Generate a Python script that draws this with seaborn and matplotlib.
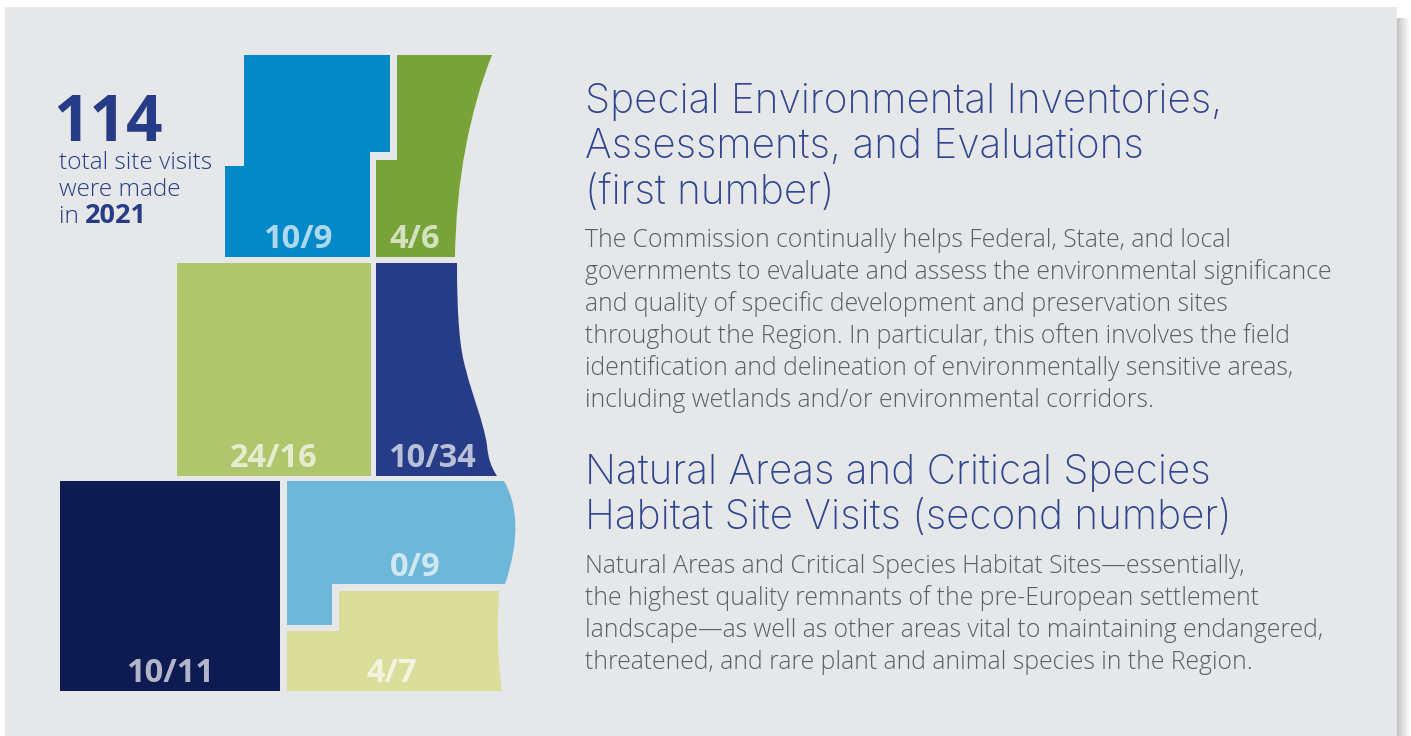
import numpy as np
import seaborn as sns
import matplotlib.pyplot as plt
from matplotlib.path import Path
from matplotlib.patches import PathPatch

# Данные
first_number = [10, 4, 24, 10, 10, 0, 4]
second_number = [9, 6, 16, 34, 11, 9, 7]
total_visits = '114'
year = '2021'
colors = ['#0388c8', '#78a339', '#afc66c', '#263c87', '#0e1b52', '#6db7d8', '#dbdd9b']

heading_1 = ['Special Environmental Inventories,', 'Assessments, and Evaluations', '(first number)']
body_1 = ['The Commission continually helps Federal, State, and local',
          'governments to evaluate and assess the environmental significance',
          'and quality of specific development and preservation sites',
          'throughout the Region. In particular, this often involves the field',
          'identification and delineation of environmentally sensitive areas,',
          'including wetlands and/or environmental corridors.']
heading_2 = ['Natural Areas and Critical Species', 'Habitat Site Visits (second number)']
body_2 = ['Natural Areas and Critical Species Habitat Sites\u2014essentially,',
          'the highest quality remnants of the pre-European settlement',
          'landscape\u2014as well as other areas vital to maintaining endangered,',
          'threatened, and rare plant and animal species in the Region.']

# Контуры округов: L - линия, C - кривая Безье
M, L, C = Path.MOVETO, Path.LINETO, Path.CURVE4
shapes = [
    [(M, 244, 55), (L, 390, 55), (L, 390, 152), (L, 370, 152), (L, 370, 257), (L, 225, 257), (L, 225, 166), (L, 244, 166)],
    [(M, 397, 55), (L, 492, 55), (C, 470, 110), (C, 456, 180), (C, 455, 257), (L, 376, 257), (L, 376, 160), (L, 397, 160)],
    [(M, 177, 263), (L, 371, 263), (L, 371, 476), (L, 177, 476)],
    [(M, 376, 263), (L, 457, 263), (C, 457, 320), (C, 460, 350), (C, 466, 370), (C, 472, 395), (C, 483, 420), (C, 487, 445),
     (C, 488, 458), (C, 491, 467), (C, 497, 476), (L, 376, 476)],
    [(M, 60, 481), (L, 280, 481), (L, 280, 691), (L, 60, 691)],
    [(M, 287, 481), (L, 504, 481), (C, 518, 505), (C, 520, 540), (C, 505, 584), (L, 332, 584), (L, 332, 625), (L, 287, 625)],
    [(M, 339, 591), (L, 499, 591), (C, 497, 625), (C, 497, 655), (C, 502, 691), (L, 287, 691), (L, 287, 631), (L, 339, 631)],
]
label_pos = [(298, 248), (415, 248), (274, 467), (432, 467), (170, 682), (415, 576), (392, 682)]

sns.set_theme(style='white')
plt.rcParams['font.family'] = ['Open Sans', 'DejaVu Sans']

fig = plt.figure(figsize=(14.11, 7.36), dpi=100)
ax = fig.add_axes([0, 0, 1, 1])
ax.set_xlim(0, 1411)
ax.set_ylim(736, 0)
ax.axis('off')

# Фон панели и тень справа
shadow = np.linspace(0, 1, 14).reshape(1, -1) ** 0.8
ax.imshow(shadow, cmap=sns.blend_palette(['#bfc0c2', '#ffffff'], as_cmap=True),
          extent=(1397, 1411, 736, 18), aspect='auto', zorder=0)
ax.set_xlim(0, 1411)
ax.set_ylim(736, 0)
ax.fill([5, 1397, 1397, 5], [7, 7, 736, 736], color='#e6e7e9', lw=0, zorder=1)

for shape, color, a, b, pos in zip(shapes, colors, first_number, second_number, label_pos):
    codes = [s[0] for s in shape] + [Path.CLOSEPOLY]
    verts = [(s[1], s[2]) for s in shape] + [(shape[0][1], shape[0][2])]
    ax.add_patch(PathPatch(Path(verts, codes), facecolor=color, edgecolor='none', zorder=2))
    ax.text(pos[0], pos[1], f'{a}/{b}', color='white', alpha=0.68, fontsize=23.5, fontweight='bold',
            ha='center', va='baseline', zorder=3)

navy = '#263c87'
ax.text(53, 141, total_visits, color=navy, fontsize=46, fontweight='bold', va='baseline', zorder=3)
ax.text(59, 169, 'total site visits', color=navy, fontsize=17.6, fontweight='light', va='baseline', zorder=3)
ax.text(59, 196, 'were made', color=navy, fontsize=17.6, fontweight='light', va='baseline', zorder=3)
ax.text(59, 223, 'in', color=navy, fontsize=17.6, fontweight='light', va='baseline', zorder=3)
ax.text(85, 223, year, color=navy, fontsize=19.5, fontweight='bold', va='baseline', zorder=3)

# Заголовки и основной текст
for lines, y0, step, size, col, weight, family in [
    (heading_1, 113, 45.5, 29.2, '#2f4590', 'light', 'Inter'),
    (body_1, 247, 32, 17.8, '#5c5e61', 'light', 'Open Sans'),
    (heading_2, 484, 45, 29.2, '#2f4590', 'light', 'Inter'),
    (body_2, 573, 32, 17.8, '#5c5e61', 'light', 'Open Sans'),
]:
    for i, line in enumerate(lines):
        ax.text(585, y0 + i * step, line, color=col, fontsize=size, fontweight=weight, family=family,
                va='baseline', zorder=3)

fig.savefig('out.png', dpi=100)
